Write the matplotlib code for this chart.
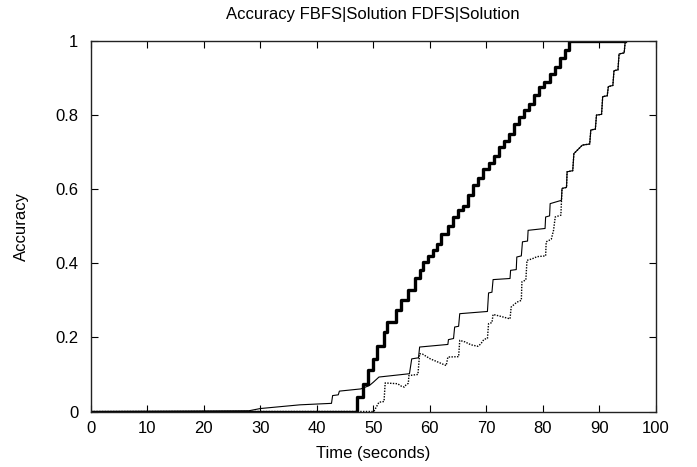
import matplotlib
matplotlib.use("Agg")
import matplotlib.pyplot as plt

plt.rcParams['font.family'] = ['Liberation Sans', 'DejaVu Sans']

# Series 1: thick solid (step values after each time)
fbfs_t = [0, 47.1, 48.1, 49.0, 49.9, 50.7, 51.9, 52.5, 54.0, 54.9, 56.1, 57.3, 58.2, 58.8,
          59.7, 60.6, 61.3, 62.0, 63.2, 64.1, 65.0, 65.9, 66.8, 67.7, 68.6, 69.5, 70.4, 71.3,
          72.2, 73.1, 74.0, 74.9, 75.8, 76.7, 77.6, 78.5, 79.4, 80.3, 81.2, 82.1, 83.0,
          83.9, 84.6, 94.6]
fbfs_acc = [0, 0.04, 0.073, 0.111, 0.142, 0.178, 0.214, 0.241, 0.273, 0.30, 0.327, 0.359,
            0.381, 0.404, 0.42, 0.435, 0.453, 0.48, 0.50, 0.525, 0.545, 0.555, 0.585, 0.61, 0.63,
            0.655, 0.67, 0.69, 0.715, 0.73, 0.75, 0.775, 0.795, 0.815, 0.83, 0.855, 0.875,
            0.89, 0.91, 0.93, 0.955, 0.975, 1.0, 1.0]

# Series 2: thin solid
fdfs_t = [0, 28, 30, 37, 42.6, 42.8, 43.8, 44.0, 47.8, 49.3, 50.0, 51.0, 56.4, 56.8, 58.0,
          58.2, 63.2, 63.3, 64.2, 64.4, 65.1, 65.3, 70.2, 70.4, 71.0, 71.2, 74.2, 74.3,
          75.3, 75.4, 76.2, 76.4, 77.3, 77.4, 80.4, 80.5, 81.2, 81.3, 83.3, 83.4, 84.2,
          84.3, 85.3, 85.5, 87.0, 88.3, 88.5, 89.3, 89.5, 90.4, 90.6, 91.4, 91.6, 92.4,
          92.6, 93.3, 93.5, 94.4, 94.6]
fdfs_acc = [0, 0.002, 0.008, 0.018, 0.022, 0.043, 0.045, 0.055, 0.061, 0.07, 0.079, 0.093,
            0.102, 0.142, 0.145, 0.174, 0.181, 0.194, 0.197, 0.228, 0.23, 0.264, 0.27, 0.32,
            0.322, 0.356, 0.359, 0.381, 0.383, 0.417, 0.42, 0.458, 0.46, 0.489, 0.494,
            0.525, 0.528, 0.561, 0.57, 0.602, 0.605, 0.647, 0.65, 0.696, 0.719, 0.722,
            0.76, 0.762, 0.8, 0.802, 0.85, 0.852, 0.877, 0.88, 0.92, 0.922, 0.965, 0.968, 1.0]

# Series 3: dotted
third_t = [0, 50.1, 51.0, 51.9, 52.1, 54.3, 55.0, 55.5, 55.8, 56.2, 56.3, 57.9, 58.2, 58.7,
           60.1, 61.2, 62.9, 63.2, 65.1, 65.3, 66.2, 67.3, 68.5, 69.0, 69.6, 70.2, 70.4,
           71.0, 71.2, 72.5, 74.2, 74.4, 75.4, 76.2, 76.3, 77.0, 77.2, 78.1, 79.0, 80.5,
           80.6, 81.5, 81.9, 82.2, 83.2, 83.4, 84.2, 84.3, 85.3, 85.5, 87.0, 88.3, 88.5,
           89.3, 89.5, 90.4, 90.6, 91.4, 91.6, 92.4, 92.6, 93.3, 93.5, 94.4, 94.6]
third_acc = [0, 0, 0.025, 0.027, 0.077, 0.075, 0.068, 0.066, 0.072, 0.076, 0.097, 0.10,
             0.156, 0.155, 0.142, 0.135, 0.124, 0.147, 0.148, 0.192, 0.188, 0.18, 0.176,
             0.182, 0.195, 0.197, 0.237, 0.24, 0.262, 0.257, 0.25, 0.282, 0.295, 0.30, 0.35,
             0.355, 0.408, 0.412, 0.418, 0.42, 0.458, 0.465, 0.489, 0.525, 0.53, 0.602,
             0.605, 0.647, 0.65, 0.696, 0.719, 0.722, 0.76, 0.762, 0.8, 0.802, 0.85, 0.852,
             0.877, 0.88, 0.92, 0.922, 0.965, 0.968, 1.0]

x_ticks = [0, 10, 20, 30, 40, 50, 60, 70, 80, 90, 100]
y_ticks = [0, 0.2, 0.4, 0.6, 0.8, 1]
y_tick_labels = ["0", "0.2", "0.4", "0.6", "0.8", "1"]

W, H = 697, 467
fig = plt.figure(figsize=(W / 100, H / 100), dpi=100)
ax = fig.add_axes([90.8 / W, (H - 411.5) / H, (655.8 - 90.8) / W, (411.5 - 41) / H])

ax.plot(third_t, third_acc, color='black', lw=1.0, linestyle=(0, (1, 1)))
ax.plot(fdfs_t, fdfs_acc, color='black', lw=0.8)
ax.step(fbfs_t, fbfs_acc, where='post', color='black', lw=2.4)

ax.set_xlim(0, 100)
ax.set_ylim(0, 1)
ax.set_xticks(x_ticks)
ax.set_xticklabels([str(v) for v in x_ticks])
ax.set_yticks(y_ticks)
ax.set_yticklabels(y_tick_labels)
ax.tick_params(direction='in', length=5, width=0.8, top=True, right=True,
               labelsize=12, colors='black')
ax.tick_params(axis='x', pad=7)
ax.tick_params(axis='y', pad=9)
for s in ax.spines.values():
    s.set_linewidth(1.0)
    s.set_color('#222222')

ax.set_xlabel("Time (seconds)", fontsize=12, labelpad=7)
ax.set_ylabel("Accuracy", fontsize=12, labelpad=19)
fig.text((90.8 + 655.8) / 2 / W, 1 - 14 / H, "Accuracy FBFS|Solution FDFS|Solution",
         ha='center', va='center', fontsize=12)

fig.savefig("out.png", dpi=100)
